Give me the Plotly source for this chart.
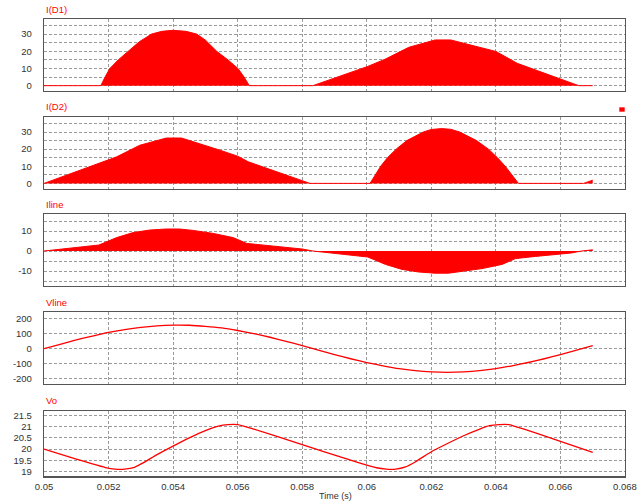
import plotly.graph_objects as go

# ---------------- data ----------------
t_grid = [0.0500, 0.0505, 0.0510, 0.0515, 0.0520, 0.0525, 0.0530, 0.0535, 0.0540, 0.0545,
          0.0550, 0.0555, 0.0560, 0.0565, 0.0570, 0.0575, 0.0580, 0.0585, 0.0590, 0.0595,
          0.0600, 0.0605, 0.0610, 0.0615, 0.0620, 0.0625, 0.0630, 0.0635, 0.0640, 0.0645,
          0.0650, 0.0655, 0.0660, 0.0665, 0.0670]

t_d1 = [0.05, 0.05176, 0.0519, 0.05204, 0.0523, 0.05261, 0.05295, 0.05333, 0.05365, 0.054,
        0.0544, 0.05473, 0.055, 0.05535, 0.0557, 0.05601, 0.0562, 0.05636,
        0.05833, 0.06003, 0.06058, 0.0613, 0.06182, 0.06212, 0.0626, 0.06316, 0.0637,
        0.064, 0.06433, 0.06466, 0.06657, 0.067]
i_d1 = [0, 0, 5.3, 10, 15, 20, 25.5, 30, 31.6, 32.2,
        31.6, 30, 26.5, 20, 15, 10, 5, 0,
        0, 11.2, 15.5, 22.3, 25.2, 26.6, 26.6, 23.8, 21.3,
        19.9, 16.5, 13.0, 0, 0]

t_d2 = [0.05, 0.0517, 0.05225, 0.05297, 0.05349, 0.05379, 0.05426, 0.05483, 0.05545, 0.056,
        0.05633, 0.05824, 0.0601, 0.06043, 0.06064, 0.06091, 0.06124, 0.06175, 0.062, 0.06232,
        0.0626, 0.06288, 0.0634, 0.06377, 0.06405, 0.06429, 0.0645, 0.0647, 0.06672, 0.067]
i_d2 = [0, 11.4, 15.5, 22.3, 25.2, 26.5, 26.5, 23.2, 19.4, 15.9,
        12.6, 0, 0, 10, 15, 20, 25, 30, 31.5, 32,
        31.6, 30, 25, 20, 15, 10, 5, 0, 0, 1.9]

t_iline = [0.05, 0.0517, 0.05225, 0.05276, 0.05328, 0.05379, 0.0542, 0.05462, 0.05524, 0.05586,
           0.05628, 0.0569, 0.058, 0.05833, 0.06003, 0.06058, 0.06109, 0.06161, 0.06212, 0.06253,
           0.06295, 0.06357, 0.06419, 0.06461, 0.06523, 0.06633, 0.06666, 0.067]
i_line = [0, 3.0, 6.7, 9.2, 10.5, 11.0, 11.0, 10.3, 8.8, 6.7,
          3.8, 2.7, 1.0, 0, -3.0, -6.7, -9.2, -10.5, -11.1, -11.1,
          -10.3, -8.8, -6.7, -3.8, -2.7, -1.0, 0, 0.6]

v_line = [0, 29, 58, 84, 108, 127, 142, 152, 157, 156,
          149, 138, 121, 100, 76, 49, 20, -10, -39, -67,
          -92, -114, -133, -146, -154, -157, -154, -146, -133, -114,
          -92, -67, -39, -10, 20]

t_vo = [0.05, 0.051, 0.0515, 0.0519, 0.0522, 0.0525, 0.0528, 0.0531, 0.0535, 0.054,
        0.0545, 0.055, 0.0554, 0.0557, 0.056, 0.0565, 0.058, 0.0595, 0.06, 0.0603,
        0.0606, 0.0609, 0.0612, 0.0615, 0.062, 0.0625, 0.063, 0.0635, 0.0638, 0.0641,
        0.0644, 0.0649, 0.066, 0.067]
v_o = [20.0, 19.55, 19.33, 19.17, 19.1, 19.1, 19.18, 19.4, 19.75, 20.13,
       20.5, 20.83, 21.03, 21.1, 21.1, 20.9, 20.2, 19.5, 19.28, 19.16,
       19.1, 19.1, 19.2, 19.42, 19.88, 20.25, 20.6, 20.9, 21.05, 21.1,
       21.1, 20.88, 20.35, 19.85]

panel_titles = ["I(D1)", "I(D2)", "Iline", "Vline", "Vo"]

x_ticks = [0.05, 0.052, 0.054, 0.056, 0.058, 0.06, 0.062, 0.064, 0.066, 0.068]
x_ticktext = ["0.05", "0.052", "0.054", "0.056", "0.058", "0.06", "0.062", "0.064", "0.066", "0.068"]

y_ticks = [
    ([0, 10, 20, 30], ["0", "10", "20", "30"], [5, 15, 25, 35]),
    ([0, 10, 20, 30], ["0", "10", "20", "30"], [5, 15, 25, 35]),
    ([-10, 0, 10], ["-10", "0", "10"], [-15, -5, 5, 15]),
    ([-200, -100, 0, 100, 200], ["-200", "-100", "0", "100", "200"], []),
    ([19, 19.5, 20, 20.5, 21, 21.5], ["19", "19.5", "20", "20.5", "21", "21.5"], []),
]
y_ranges = [[-3.1, 38.6], [-3.1, 38.6], [-17.5, 18.35], [-235, 242], [18.775, 21.725]]

# ---------------- layout geometry (pixels) ----------------
W, H = 637, 501
X_LEFT, X_RIGHT = 44, 625
panel_px = [(19.3, 91), (117.3, 188.7), (214.3, 286), (312.3, 384), (410.7, 476.3)]
title_px = [9.7, 107, 204, 302, 400]

RED = "#ff0000"
GRID = "#9a9a9a"
FONT = "Liberation Sans, Arial, sans-serif"

fig = go.Figure()

series = [
    (t_d1, i_d1, True),
    (t_d2, i_d2, True),
    (t_iline, i_line, True),
    (t_grid, v_line, False),
    (t_vo, v_o, False),
]

for k, (tx, vy, filled) in enumerate(series):
    n = k + 1
    xa = "x" if n == 1 else f"x{n}"
    ya = "y" if n == 1 else f"y{n}"
    if filled:
        fig.add_trace(go.Scatter(x=tx, y=vy, mode="lines", xaxis=xa, yaxis=ya,
                                 line=dict(color=RED, width=1), fill="tozeroy",
                                 fillcolor=RED, showlegend=False, hoverinfo="skip"))
    else:
        fig.add_trace(go.Scatter(x=tx, y=vy, mode="lines", xaxis=xa, yaxis=ya,
                                 line=dict(color=RED, width=1.3, shape="spline", smoothing=0.5),
                                 showlegend=False, hoverinfo="skip"))

layout = dict(width=W, height=H, margin=dict(l=0, r=0, t=0, b=0),
              plot_bgcolor="white", paper_bgcolor="white",
              font=dict(family=FONT, size=9.5, color="#333333"))

for k in range(5):
    n = k + 1
    top, bot = panel_px[k]
    ydom = [1 - bot / H, 1 - top / H]
    xkey = "xaxis" if n == 1 else f"xaxis{n}"
    ykey = "yaxis" if n == 1 else f"yaxis{n}"
    anchor_y = "y" if n == 1 else f"y{n}"
    anchor_x = "x" if n == 1 else f"x{n}"
    layout[xkey] = dict(domain=[X_LEFT / W, X_RIGHT / W], anchor=anchor_y,
                        range=[0.05, 0.068], tickvals=x_ticks, ticktext=x_ticktext,
                        showticklabels=(n == 5), showgrid=True, gridcolor=GRID,
                        griddash="3px,2px", gridwidth=1, zeroline=False,
                        showline=True, mirror=True, linecolor="#555555", linewidth=1.2,
                        ticks="", fixedrange=True, automargin=False,
                        ticklabelstandoff=1)
    tv, tt, mv = y_ticks[k]
    yax = dict(domain=ydom, anchor=anchor_x, range=y_ranges[k],
               tickvals=tv, ticktext=tt, showgrid=True, gridcolor=GRID,
               griddash="3px,2px", gridwidth=1, zeroline=False,
               showline=True, mirror=True, linecolor="#555555", linewidth=1.2,
               ticks="", fixedrange=True, automargin=False, ticklabelstandoff=9)
    if mv:
        yax["minor"] = dict(tickvals=mv, showgrid=True, gridcolor=GRID,
                            griddash="3px,2px", gridwidth=1, ticks="")
    layout[ykey] = yax

annotations = []
for k in range(5):
    annotations.append(dict(text=panel_titles[k], xref="paper", yref="paper",
                            x=X_LEFT / W, y=1 - title_px[k] / H, xanchor="left",
                            yanchor="middle", showarrow=False,
                            font=dict(color=RED, size=9.5, family=FONT)))
annotations.append(dict(text="Time (s)", xref="paper", yref="paper",
                        x=335 / W, y=1 - 495.5 / H, xanchor="center", yanchor="middle",
                        showarrow=False, font=dict(color="#333333", size=9, family=FONT)))
layout["annotations"] = annotations

layout["shapes"] = [dict(type="rect", xref="paper", yref="paper",
                         x0=619.3 / W, x1=624.7 / W, y0=1 - 111.7 / H, y1=1 - 107.3 / H,
                         fillcolor=RED, line=dict(width=0))]

fig.update_layout(**layout)
fig.write_html("out.html", config={"displayModeBar": False, "staticPlot": True},
               post_script="document.body.style.margin='0';document.body.style.overflow='hidden';")
